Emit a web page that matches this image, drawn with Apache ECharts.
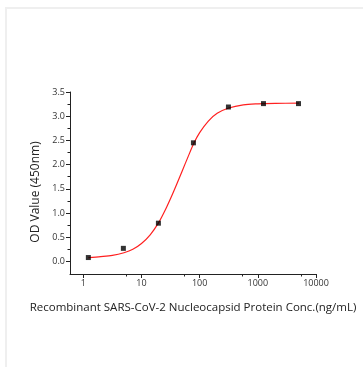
<!DOCTYPE html>
<html>
<head>
<meta charset="utf-8">
<script src="https://cdn.jsdelivr.net/npm/echarts@6/dist/echarts.min.js"></script>
<style>
  html, body { margin: 0; padding: 0; background: #fff; }
  #wrap { position: relative; width: 363px; height: 367px; overflow: hidden; }
  #frame { position: absolute; left: 5px; top: 7px; width: 400px; height: 400px;
           border-left: 2px solid #efefef; border-top: 2px solid #efefef; }
  #chart { position: absolute; left: 0; top: 0; width: 363px; height: 367px; }
</style>
</head>
<body>
<div id="wrap">
  <div id="frame"></div>
  <div id="chart"></div>
</div>
<script>
// measured points (ng/mL, OD450)
const concs = [1.22, 4.88, 19.53, 78.13, 312.5, 1250, 5000];
const odValues = [0.08, 0.27, 0.79, 2.45, 3.19, 3.26, 3.26];

// fitted curve
const curveX = [1.22, 2.0, 3.16, 5.0, 7.1, 10, 14.1, 19.5, 25.1, 31.6, 39.8, 50.1, 63.1, 79.4,
                100, 141, 200, 316, 562, 1000, 2000, 5100];
const curveY = [0.08, 0.10, 0.125, 0.18, 0.25, 0.37, 0.55, 0.79, 1.04, 1.30, 1.58, 1.87, 2.16, 2.44,
                2.66, 2.90, 3.06, 3.17, 3.235, 3.255, 3.265, 3.27];

// tick labels
const xTicks = [1, 10, 100, 1000, 10000];
const xMinorTicks = [5.5, 55, 550, 5500];
const yTicks = [0, 0.5, 1, 1.5, 2, 2.5, 3, 3.5];
const yMinorTicks = [0.25, 0.75, 1.25, 1.75, 2.25, 2.75, 3.25];

const font = '"Open Sans", "Noto Sans", sans-serif';
const axisColor = '#222';
const labelColor = '#333';

const chart = echarts.init(document.getElementById('chart'));

const baseX = {
  type: 'log',
  logBase: 10,
  min: 0.59,
  max: 10000,
  position: 'bottom',
  splitLine: { show: false },
};
const baseY = {
  type: 'value',
  min: -0.26,
  max: 3.5,
  position: 'left',
  splitLine: { show: false },
};

chart.setOption({
  animation: false,
  grid: { left: 70, right: 47, top: 92, bottom: 93 },
  xAxis: [
    Object.assign({}, baseX, {
      name: 'Recombinant SARS-CoV-2 Nucleocapsid Protein Conc.(ng/mL)',
      nameLocation: 'middle',
      nameGap: 28,
      nameTextStyle: { color: '#222', fontSize: 11.5, fontFamily: font },
      axisLine: { show: true, onZero: false, lineStyle: { color: axisColor, width: 1 } },
      axisTick: { customValues: xTicks, length: 4, lineStyle: { color: axisColor } },
      axisLabel: {
        customValues: xTicks,
        margin: 5,
        color: labelColor,
        fontSize: 9,
        fontFamily: font,
        formatter: v => String(Math.round(v)),
      },
    }),
    Object.assign({}, baseX, {
      axisLine: { show: false, onZero: false },
      axisTick: { customValues: xMinorTicks, length: 2.5, lineStyle: { color: axisColor } },
      axisLabel: { show: false },
    }),
  ],
  yAxis: [
    Object.assign({}, baseY, {
      name: 'OD Value (450nm)',
      nameLocation: 'middle',
      nameGap: 23,
      nameTextStyle: { color: '#222', fontSize: 12, fontFamily: font, padding: [0, 18, 0, 0] },
      axisLine: { show: true, onZero: false, lineStyle: { color: axisColor, width: 1 } },
      axisTick: { show: true, customValues: yTicks, length: 4, lineStyle: { color: axisColor } },
      axisLabel: {
        customValues: yTicks,
        margin: 5,
        color: labelColor,
        fontSize: 9,
        fontFamily: font,
        formatter: v => v.toFixed(1),
      },
    }),
    Object.assign({}, baseY, {
      axisLine: { show: false, onZero: false },
      axisTick: { show: true, customValues: yMinorTicks, length: 2.5, lineStyle: { color: axisColor } },
      axisLabel: { show: false },
    }),
  ],
  series: [
    {
      name: 'fit',
      type: 'line',
      xAxisIndex: 0,
      yAxisIndex: 0,
      data: curveX.map((x, i) => [x, curveY[i]]),
      smooth: 0.3,
      showSymbol: false,
      symbol: 'none',
      lineStyle: { color: '#ff2020', width: 1.2 },
      z: 2,
    },
    {
      name: 'OD',
      type: 'scatter',
      xAxisIndex: 0,
      yAxisIndex: 0,
      data: concs.map((x, i) => [x, odValues[i]]),
      symbol: 'rect',
      symbolSize: 5,
      itemStyle: { color: '#000' },
      z: 3,
    },
  ],
});
</script>
</body>
</html>
